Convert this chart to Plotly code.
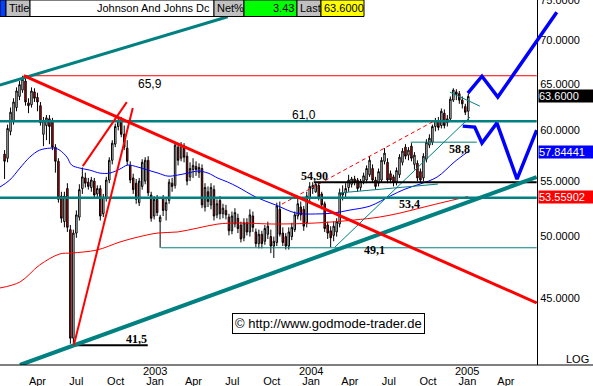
import math
import pandas as pd
import plotly.graph_objects as go

# ---------------- data (weekly candles, Johnson & Johnson) ----------------
week_start = "2002-01-14"
dates = pd.date_range(week_start, periods=156, freq="7D")

opens = [57.6, 57.2, 59.9, 61.0, 62.4, 63.6, 64.3, 65.3, 62.9, 62.7,
         64.1, 63.5, 62.6, 59.6, 60.5, 61.2, 61.0, 58.3, 56.9, 53.6,
         51.3, 54.3, 50.6, 42.0, 50.3, 51.7, 54.3, 55.3, 54.9, 54.4,
         55.0, 53.8, 54.3, 52.0, 53.4, 55.1, 57.0, 58.6, 60.4, 61.0,
         59.6, 58.2, 56.5, 55.3, 54.8, 53.0, 54.5, 55.0, 57.0, 53.7,
         51.8, 53.3, 51.3, 53.4, 52.3, 53.2, 54.8, 54.6, 58.3, 57.2,
         58.4, 57.4, 55.4, 56.1, 56.4, 55.8, 56.2, 52.6, 54.0, 52.8,
         54.2, 51.9, 53.2, 52.0, 52.3, 51.7, 50.5, 51.1, 51.6, 51.0,
         49.9, 51.2, 50.4, 51.8, 50.4, 49.4, 50.2, 49.6, 50.2, 50.0,
         49.2, 49.5, 52.4, 50.3, 50.0, 49.2, 50.0, 50.6, 51.8, 52.6,
         52.4, 51.2, 53.4, 54.3, 54.0, 54.6, 53.8, 52.9, 51.0, 50.5,
         50.1, 50.4, 51.1, 53.7, 53.9, 54.4, 54.7, 55.2, 55.1, 54.4,
         55.0, 55.1, 55.6, 56.2, 55.1, 54.8, 55.1, 56.9, 56.8, 55.7,
         55.4, 54.9, 55.6, 56.8, 58.3, 57.5, 58.4, 56.6, 56.7, 55.9,
         55.3, 57.1, 58.5, 58.8, 60.4, 61.0, 60.5, 61.8, 60.8, 61.2,
         63.2, 64.1, 63.9, 63.2, 62.5, 62.0]
highs = [58.0, 60.6, 62.4, 63.4, 64.6, 65.3, 65.9, 65.8, 63.4, 64.6,
         64.5, 64.0, 63.0, 61.4, 61.6, 61.6, 61.3, 58.6, 57.2, 54.0,
         54.0, 54.8, 51.0, 50.6, 52.3, 54.7, 56.3, 55.8, 55.3, 55.4,
         55.3, 54.6, 54.6, 53.8, 55.4, 57.3, 59.0, 60.7, 61.4, 61.4,
         60.5, 59.0, 56.9, 55.7, 55.2, 55.3, 57.1, 57.3, 57.4, 54.0,
         53.6, 53.7, 51.9, 53.7, 53.4, 55.2, 55.3, 58.8, 58.6, 58.8,
         58.7, 57.8, 56.8, 57.2, 56.9, 56.7, 56.6, 54.8, 54.5, 54.8,
         54.6, 53.3, 53.6, 52.9, 52.8, 52.0, 52.2, 52.5, 52.0, 51.3,
         51.6, 51.6, 52.4, 52.2, 50.7, 50.6, 50.5, 51.0, 51.3, 50.6,
         50.0, 53.0, 53.1, 50.8, 50.3, 50.8, 51.2, 52.2, 53.4, 53.1,
         52.7, 54.0, 54.9, 54.9, 54.9, 54.9, 54.0, 53.1, 51.3, 50.9,
         51.3, 51.6, 54.3, 54.6, 54.8, 55.6, 55.4, 55.5, 55.3, 55.2,
         55.8, 56.5, 57.4, 56.6, 55.4, 56.2, 57.3, 58.2, 57.2, 56.0,
         55.6, 56.3, 57.6, 58.2, 58.6, 58.3, 58.7, 57.8, 57.0, 56.2,
         57.7, 59.1, 59.6, 60.6, 61.3, 61.4, 62.3, 62.2, 61.6, 63.6,
         64.5, 64.4, 64.2, 63.6, 62.8, 63.9]
lows = [55.2, 56.8, 59.5, 60.6, 62.0, 63.2, 64.0, 62.6, 61.8, 62.4,
        63.0, 62.0, 60.5, 58.4, 59.0, 58.6, 58.0, 55.8, 53.0, 51.2,
        50.8, 50.4, 41.6, 41.5, 49.9, 51.4, 53.8, 54.4, 54.2, 54.0,
        53.4, 53.5, 51.4, 51.7, 53.1, 54.8, 56.6, 58.3, 60.0, 59.3,
        58.0, 56.5, 54.8, 53.8, 52.9, 52.7, 54.2, 54.7, 53.6, 51.3,
        51.5, 51.8, 49.05, 51.8, 51.4, 52.9, 54.0, 54.3, 56.5, 56.9,
        56.8, 54.6, 55.0, 55.3, 55.5, 55.3, 52.5, 52.2, 52.6, 52.4,
        51.4, 51.6, 51.5, 51.6, 51.5, 50.1, 50.2, 50.8, 50.3, 49.5,
        49.6, 50.1, 50.0, 50.4, 49.1, 49.0, 49.0, 49.3, 49.8, 48.6,
        48.2, 49.2, 50.0, 49.2, 48.9, 48.9, 49.7, 50.4, 51.5, 51.4,
        50.5, 50.8, 53.0, 53.8, 53.9, 53.2, 52.4, 50.4, 49.8, 49.1,
        49.6, 50.0, 50.8, 53.2, 53.5, 54.0, 54.4, 54.6, 54.0, 54.1,
        54.7, 54.8, 55.4, 54.9, 54.2, 54.5, 54.9, 56.6, 54.8, 54.8,
        54.5, 54.6, 55.3, 56.5, 57.1, 57.0, 56.9, 56.1, 55.0, 54.9,
        55.0, 56.8, 58.2, 58.5, 59.9, 60.0, 60.2, 60.2, 60.4, 60.9,
        63.0, 63.2, 62.8, 62.3, 61.6, 61.0]
closes = [56.9, 60.2, 61.9, 63.0, 64.2, 64.9, 65.5, 63.0, 62.6, 64.2,
          63.4, 63.0, 60.8, 61.0, 61.3, 60.4, 58.3, 56.9, 53.3, 51.6,
          53.6, 50.8, 42.0, 50.3, 51.9, 54.2, 55.4, 54.8, 54.5, 55.1,
          53.7, 54.3, 51.8, 53.5, 55.1, 57.0, 58.7, 60.4, 61.0, 59.6,
          58.3, 56.9, 55.1, 54.2, 53.3, 55.0, 56.8, 57.0, 53.9, 51.6,
          53.3, 52.1, 51.7, 52.3, 53.0, 54.9, 54.5, 58.5, 57.0, 58.5,
          57.3, 55.0, 56.2, 56.5, 56.1, 56.3, 52.8, 54.4, 53.1, 54.4,
          51.8, 52.9, 52.0, 52.5, 51.9, 50.5, 51.8, 52.1, 50.7, 49.8,
          51.2, 50.4, 51.9, 50.8, 49.4, 50.2, 49.4, 50.7, 50.9, 49.2,
          49.6, 52.7, 50.2, 49.5, 49.2, 50.4, 50.8, 51.9, 52.9, 51.9,
          50.9, 53.6, 54.5, 54.6, 54.7, 53.5, 52.8, 50.7, 50.3, 49.9,
          50.9, 51.3, 53.9, 53.9, 54.3, 55.1, 55.2, 54.9, 54.3, 55.0,
          55.5, 56.2, 57.0, 55.1, 54.5, 55.9, 57.0, 57.7, 55.1, 55.1,
          54.9, 56.0, 57.3, 57.9, 57.4, 58.0, 57.2, 57.5, 55.3, 55.1,
          57.4, 58.8, 59.2, 60.4, 61.0, 60.3, 62.0, 60.5, 61.2, 63.3,
          64.3, 63.8, 63.2, 62.8, 61.9, 63.6]

# moving averages
blue_ma_dates = ["2002-01-03", "2002-01-26", "2002-02-19", "2002-03-14", "2002-04-06",
                 "2002-04-30", "2002-05-12", "2002-05-23", "2002-06-09", "2002-06-20",
                 "2002-07-09", "2002-08-01", "2002-08-25", "2002-09-17", "2002-10-11",
                 "2002-10-29", "2002-11-22", "2002-12-15", "2003-01-08", "2003-01-31",
                 "2003-02-23", "2003-03-19", "2003-04-11", "2003-05-05", "2003-05-28",
                 "2003-06-20", "2003-07-14", "2003-08-25", "2003-10-11", "2003-11-27",
                 "2004-01-12", "2004-02-21", "2004-04-01", "2004-05-18", "2004-07-04",
                 "2004-08-08", "2004-09-12", "2004-10-22", "2004-12-01", "2005-01-02"]
blue_ma = [54.44, 55.09, 56.24, 57.31, 58.00, 58.20, 58.20, 58.00, 57.31, 56.53,
           56.24, 56.05, 55.76, 55.76, 56.15, 56.53, 56.34, 56.05, 55.76, 55.47,
           55.57, 55.76, 55.95, 55.76, 55.28, 54.91, 54.44, 53.51, 52.78, 52.06,
           51.98, 52.06, 52.33, 52.69, 53.60, 54.25, 54.72, 55.38, 56.82, 57.84]
red_ma_dates = ["2002-01-03", "2002-02-19", "2002-04-06", "2002-05-23", "2002-06-20",
                "2002-08-18", "2002-10-11", "2002-11-22", "2003-01-08", "2003-02-23",
                "2003-04-11", "2003-05-28", "2003-07-14", "2003-10-11", "2004-01-12",
                "2004-04-10", "2004-06-10", "2004-07-27", "2004-09-12", "2004-10-29",
                "2005-01-02"]
red_ma = [45.78, 46.25, 47.62, 48.53, 48.61, 48.86, 49.54, 49.96, 50.31, 50.40,
          50.74, 51.09, 51.18, 51.09, 51.18, 51.44, 51.71, 52.06, 52.51, 52.96, 53.56]

# trend lines / levels (date, price)
upper_channel_d = ["2002-01-03", "2003-06-20"];  upper_channel_p = [64.85, 72.93]
lower_channel_d = ["2002-02-19", "2005-06-12"];  lower_channel_p = [40.11, 55.38]
down_trend_d = ["2002-02-28", "2005-06-12"];     down_trend_p = [65.9, 44.62]
steep1_d = ["2002-06-25", "2002-11-10"];         steep1_p = [41.5, 62.34]
steep2_d = ["2002-07-16", "2002-10-27"];         steep2_p = [56.43, 62.98]
red_dash_d = ["2003-10-25", "2004-10-17"];       red_dash_p = [52.87, 61.02]
up_thin_d = ["2004-02-26", "2005-01-07"];        up_thin_p = [49.11, 61.38]
res_thin_d = ["2004-11-21", "2005-01-30"];       res_thin_p = [64.07, 62.55]
sup_thin_d = ["2004-03-04", "2004-10-24"];       sup_thin_p = [53.88, 54.72]
proj_low_d = ["2004-12-21", "2005-01-18", "2005-02-04", "2005-03-11", "2005-04-27", "2005-06-12"]
proj_low_p = [60.44, 60.34, 58.71, 60.76, 55.19, 60.03]
proj_up_d = ["2005-01-02", "2005-02-04", "2005-03-13", "2005-07-29"]
proj_up_p = [63.96, 65.85, 63.53, 73.50]

level_659 = 65.9
level_610 = 60.95
level_534 = 53.45
level_491 = 49.05
level_549 = 54.9
level_415 = 41.5
level_588 = 58.8

last_price = 63.60
blue_last = 57.84441
red_last = 53.55902

month_ticks = ["2002-04-01", "2002-07-01", "2002-10-01", "2003-01-01", "2003-04-01",
               "2003-07-01", "2003-10-01", "2004-01-01", "2004-04-01", "2004-07-01",
               "2004-10-01", "2005-01-01", "2005-04-01"]
month_labels = ["Apr", "Jul", "Oct", "Jan", "Apr", "Jul", "Oct", "Jan", "Apr", "Jul",
                "Oct", "Jan", "Apr"]
year_ticks = ["2003-01-01", "2004-01-01", "2005-01-01"]
year_labels = ["2003", "2004", "2005"]
price_ticks = [45, 50, 55, 60, 65, 70, 75]
price_labels = ["45.0000", "50.0000", "55.0000", "60.0000", "65.0000", "70.0000", "75.0000"]

# ---------------- figure ----------------
W, H = 593, 386
PW, PH = 537, 365
TEAL = "#008080"
SANS = "Liberation Sans, Arial, sans-serif"
SERIF = "Liberation Serif, Times New Roman, serif"
CLEAR = "rgba(0,0,0,0)"

x_start = pd.Timestamp("2002-01-03 08:00")
x_end = pd.Timestamp("2005-06-12 18:00")
x_end_full = x_start + (x_end - x_start) * (W / PW)
y_lo, y_hi = 40.11, 75.05

fig = go.Figure()
fig.add_trace(go.Candlestick(
    x=dates, open=opens, high=highs, low=lows, close=closes,
    increasing=dict(fillcolor="white", line=dict(color="black", width=1)),
    decreasing=dict(fillcolor="#ff0000", line=dict(color="black", width=1)),
    whiskerwidth=0, showlegend=False, hoverinfo="skip"))


def add_line(xs, ys, color, width, dash=None, xa="x", ya="y", shape="linear"):
    fig.add_trace(go.Scatter(x=xs, y=ys, mode="lines", xaxis=xa, yaxis=ya,
                             line=dict(color=color, width=width, dash=dash, shape=shape),
                             hoverinfo="skip", showlegend=False))


end_d = "2005-06-12"
add_line(red_ma_dates, red_ma, "#ff0000", 1, shape="spline")
add_line(blue_ma_dates, blue_ma, "#0000ff", 1, shape="spline")
add_line(["2002-02-28", end_d], [level_659] * 2, "#ff0000", 1)
add_line(["2002-01-03", end_d], [level_610] * 2, TEAL, 2.5)
add_line(["2002-01-03", end_d], [level_534] * 2, TEAL, 2.5)
add_line(["2003-01-15", end_d], [level_491] * 2, TEAL, 1)
add_line(["2004-08-21", "2005-01-23"], [level_588] * 2, TEAL, 1)
add_line(sup_thin_d, sup_thin_p, TEAL, 1)
add_line(up_thin_d, up_thin_p, TEAL, 1)
add_line(res_thin_d, res_thin_p, TEAL, 1)
add_line(red_dash_d, red_dash_p, "#ff0000", 1, dash="4px,3px")
add_line(["2004-01-08", end_d], [level_549] * 2, "black", 2)
add_line(["2002-06-20", "2002-12-15"], [level_415] * 2, "black", 2)
add_line(upper_channel_d, upper_channel_p, TEAL, 3)
add_line(lower_channel_d, lower_channel_p, TEAL, 4)
add_line(down_trend_d, down_trend_p, "#ff0000", 3)
add_line(steep1_d, steep1_p, "#ff0000", 2)
add_line(steep2_d, steep2_p, "#ff0000", 2)
add_line(proj_low_d, proj_low_p, "#0000ff", 3.5)
add_line(proj_up_d, proj_up_p, "#0000ff", 3.5, xa="x2", ya="y2")

annotations = []


def px_x(p):
    return p / W


def px_y(p):
    return (PH - p) / PH


def lab(text, x, y, serif=True, size=12):
    annotations.append(dict(text=("<b>%s</b>" % text) if serif else text, x=px_x(x), y=px_y(y),
                            xref="paper", yref="paper", showarrow=False,
                            font=dict(family=SERIF if serif else SANS, size=size, color="black"),
                            xanchor="center", yanchor="middle"))


lab("65,9", 150, 84, serif=False, size=12)
lab("61,0", 304, 115, serif=False, size=12)
lab("54,90", 314, 175.5)
lab("53,4", 409, 204)
lab("58,8", 459, 149)
lab("49,1", 374, 250)
lab("41,5", 136, 339)

annotations.append(dict(text="\u00a9 http://www.godmode-trader.de", x=px_x(328.5), y=px_y(323.5),
                        xref="paper", yref="paper", showarrow=False,
                        font=dict(family=SANS, size=13, color="black"),
                        bgcolor="white", bordercolor="black", borderwidth=1, borderpad=2,
                        xanchor="center", yanchor="middle"))

for val, bg in [(last_price, "black"), (blue_last, "#0000ff"), (red_last, "#ff0000")]:
    txt = "%.4f" % val if val == last_price else "%.5f" % val
    annotations.append(dict(text=txt, x=px_x(PW + 0.5), y=math.log10(val), xref="paper", yref="y",
                            showarrow=False, xanchor="left", yanchor="middle", align="left",
                            font=dict(family=SANS, size=11, color="white"),
                            bgcolor=bg, borderpad=0, width=55, height=12))

annotations.append(dict(text="LOG", x=px_x(591), y=px_y(359), xref="paper", yref="paper",
                        showarrow=False, xanchor="right", yanchor="middle",
                        font=dict(family=SANS, size=11, color="black")))

for d, t in zip(year_ticks, year_labels):
    annotations.append(dict(text=t, x=d, y=0, xref="x", yref="paper", showarrow=False,
                            xanchor="center", yanchor="top", yshift=2,
                            font=dict(family=SANS, size=11, color="black")))

shapes = []
hy0, hy1 = px_y(16.5), px_y(0)
for x0, x1, col in [(0, 6, "#0040ff"), (6, 30, "#c0c0c0"), (30, 214, "white"),
                    (214, 244, "#c0c0c0"), (244, 297, "#00ff00"), (297, 321, "#c0c0c0"),
                    (321, 364, "#ffff00")]:
    shapes.append(dict(type="rect", xref="paper", yref="paper", x0=px_x(x0), x1=px_x(x1),
                       y0=hy0, y1=hy1, fillcolor=col, line=dict(color="black", width=1),
                       layer="above"))
hy = px_y(8.5)
for text, x, anchor in [("Title", 7, "left"), ("Johnson And Johns Dc", 212, "right"),
                        ("Net%", 215, "left"), ("3.43", 296, "right"), ("Last", 298, "left"),
                        ("63.6000", 322, "left")]:
    annotations.append(dict(text=text, x=px_x(x), y=hy, xref="paper", yref="paper",
                            showarrow=False, xanchor=anchor, yanchor="middle",
                            font=dict(family=SANS, size=11, color="black")))

shapes.append(dict(type="line", xref="paper", yref="paper", x0=0, x1=1, y0=0, y1=0,
                   line=dict(color="black", width=1), layer="above"))

fig.update_layout(
    width=W, height=H, margin=dict(l=0, r=0, t=0, b=H - PH, autoexpand=False),
    paper_bgcolor="white", plot_bgcolor=CLEAR, showlegend=False,
    xaxis=dict(type="date", domain=[0, PW / W], range=[x_start, x_end],
               tickvals=month_ticks, ticktext=month_labels, ticks="", showgrid=False,
               zeroline=False, showline=False, rangeslider=dict(visible=False),
               tickfont=dict(family=SANS, size=11, color="black"), ticklabelstandoff=8,
               ticklabeloverflow="allow", automargin=False),
    yaxis=dict(type="log", domain=[0, 1], range=[math.log10(y_lo), math.log10(y_hi)],
               side="right", anchor="x", tickvals=price_ticks, ticktext=price_labels,
               ticks="", showgrid=False, zeroline=False, showline=True,
               linecolor="black", linewidth=1, ticklabeloverflow="allow", automargin=False,
               tickfont=dict(family=SANS, size=11, color="black")),
    xaxis2=dict(type="date", domain=[0, 1], range=[x_start, x_end_full], visible=False,
                anchor="y2", automargin=False),
    yaxis2=dict(type="log", domain=[0, 1], range=[math.log10(y_lo), math.log10(y_hi)],
                visible=False, anchor="x2", automargin=False),
    annotations=annotations, shapes=shapes,
)

fig.write_html("out.html")
